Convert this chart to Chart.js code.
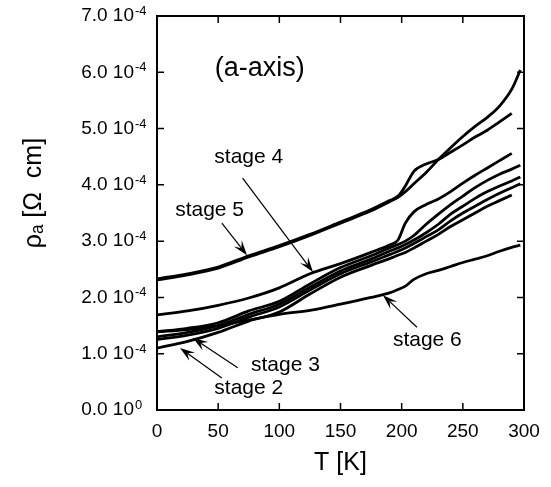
<!DOCTYPE html>
<html>
<head>
<meta charset="utf-8">
<script src="https://cdn.jsdelivr.net/npm/chart.js@4.4.0/dist/chart.umd.min.js"></script>
<style>
  html, body { margin: 0; padding: 0; background: #fff; }
</style>
</head>
<body>
<canvas id="rhoChart" width="551" height="487"></canvas>
<script>
// temperature points (K) shared by all curves
const temps = [0, 25, 50, 75, 100, 125, 150, 175, 190, 197, 203, 210, 220, 230, 240, 250, 260, 270, 280, 290, 297];

// rho_a, in units of 1e-4 ohm cm
const stage5a = [2.31, 2.40, 2.52, 2.72, 2.90, 3.10, 3.32, 3.54, 3.70, 3.78, 3.88, 4.02, 4.22, 4.45, 4.66, 4.86, 5.04, 5.20, 5.40, 5.70, 6.04];
const stage5b = [2.33, 2.42, 2.54, 2.74, 2.92, 3.12, 3.34, 3.56, 3.72, 3.80, 3.98, 4.24, 4.37, 4.45, 4.58, 4.71, 4.85, 4.97, 5.12, 5.27, null];
const stage4 = [1.69, 1.76, 1.86, 1.99, 2.17, 2.42, 2.60, 2.80, 2.93, 3.02, 3.32, 3.52, 3.65, 3.75, 3.88, 4.03, 4.17, 4.30, 4.43, 4.56, null];
const curveA = [1.39, 1.45, 1.55, 1.76, 1.93, 2.24, 2.53, 2.74, 2.88, 2.94, 3.00, 3.10, 3.30, 3.48, 3.65, 3.80, 3.95, 4.08, 4.19, 4.28, 4.35];
const curveB = [1.30, 1.38, 1.50, 1.70, 1.88, 2.18, 2.47, 2.68, 2.82, 2.88, 2.94, 3.02, 3.15, 3.30, 3.48, 3.62, 3.76, 3.88, 3.98, 4.07, 4.14];
const stage3 = [1.25, 1.33, 1.45, 1.65, 1.83, 2.13, 2.42, 2.63, 2.76, 2.82, 2.88, 2.96, 3.08, 3.20, 3.36, 3.50, 3.62, 3.74, 3.85, 3.95, 4.02];
const stage2 = [1.10, 1.22, 1.38, 1.58, 1.74, 2.06, 2.36, 2.57, 2.69, 2.75, 2.80, 2.88, 3.00, 3.12, 3.26, 3.38, 3.50, 3.62, 3.72, 3.82, null];
const stage6 = [1.39, 1.43, 1.50, 1.60, 1.70, 1.77, 1.88, 2.00, 2.08, 2.14, 2.20, 2.32, 2.42, 2.48, 2.55, 2.62, 2.68, 2.74, 2.82, 2.89, 2.93];

// y tick labels: mantissa part and exponent of 10
const yTickMantissa = ["0.0 10", "1.0 10", "2.0 10", "3.0 10", "4.0 10", "5.0 10", "6.0 10", "7.0 10"];
const yTickExponent = ["0", "-4", "-4", "-4", "-4", "-4", "-4", "-4"];

const FONT = "'Liberation Sans', Arial, Helvetica, sans-serif";
const EXP_ROOM = 14;

// text labels and arrows, placed in data coordinates (T, rho)
const notes = [
  { text: "(a-axis)", t: 84, r: 6.06, size: 27 },
  { text: "stage 4", t: 75, r: 4.49, size: 21 },
  { text: "stage 5", t: 43, r: 3.55, size: 21 },
  { text: "stage 3", t: 105, r: 0.80, size: 21 },
  { text: "stage 2", t: 75, r: 0.39, size: 21 },
  { text: "stage 6", t: 221, r: 1.24, size: 21 },
];
const arrows = [
  { from: [70, 4.12], to: [127.5, 2.45] },
  { from: [53, 3.32], to: [73.6, 2.75] },
  { from: [66, 0.75], to: [29.4, 1.28] },
  { from: [53, 0.57], to: [18.8, 1.10] },
  { from: [212.5, 1.47], to: [184.7, 2.04] },
];

function series(vals) {
  return temps.map((t, i) => ({ x: t, y: vals[i] }));
}

const allSeries = [stage5a, stage5b, stage4, curveA, curveB, stage3, stage2, stage6];

// frame with inward ticks, exponents, y title, notes and arrows
const decorations = {
  id: "decorations",
  afterDraw(chart) {
    const { ctx, chartArea: a, scales } = chart;
    const xs = scales.x, ys = scales.y;
    ctx.save();
    ctx.strokeStyle = "#000";
    ctx.fillStyle = "#000";
    ctx.lineWidth = 2;
    ctx.strokeRect(a.left, a.top, a.right - a.left, a.bottom - a.top);
    ctx.lineWidth = 1.5;
    const tl = 7;
    ctx.beginPath();
    xs.ticks.forEach((tk) => {
      const px = xs.getPixelForValue(tk.value);
      ctx.moveTo(px, a.bottom); ctx.lineTo(px, a.bottom - tl);
      ctx.moveTo(px, a.top); ctx.lineTo(px, a.top + tl);
    });
    ys.ticks.forEach((tk) => {
      const py = ys.getPixelForValue(tk.value);
      ctx.moveTo(a.left, py); ctx.lineTo(a.left + tl, py);
      ctx.moveTo(a.right, py); ctx.lineTo(a.right - tl, py);
    });
    ctx.stroke();

    // exponents of the y tick labels
    ctx.font = "13px " + FONT;
    ctx.textAlign = "left";
    ctx.textBaseline = "alphabetic";
    ys.ticks.forEach((tk, i) => {
      const py = ys.getPixelForValue(tk.value);
      ctx.fillText(yTickExponent[i], a.left - 9 - EXP_ROOM + 1, py - 1);
    });

    // y axis title
    ctx.save();
    ctx.translate(34, (a.top + a.bottom) / 2 - 20);
    ctx.rotate(-Math.PI / 2);
    ctx.textAlign = "center";
    ctx.textBaseline = "middle";
    ctx.font = "25px " + FONT;
    ctx.fillText("ρₐ [Ω  cm]", 0, 0);
    ctx.restore();

    // notes
    ctx.textAlign = "center";
    ctx.textBaseline = "middle";
    notes.forEach((n) => {
      ctx.font = n.size + "px " + FONT;
      ctx.fillText(n.text, xs.getPixelForValue(n.t), ys.getPixelForValue(n.r));
    });

    // arrows
    ctx.lineWidth = 1.2;
    arrows.forEach((ar) => {
      const x1 = xs.getPixelForValue(ar.from[0]), y1 = ys.getPixelForValue(ar.from[1]);
      const x2 = xs.getPixelForValue(ar.to[0]), y2 = ys.getPixelForValue(ar.to[1]);
      const ang = Math.atan2(y2 - y1, x2 - x1);
      const len = 15, w = 5;
      const c = Math.cos(ang), s = Math.sin(ang);
      ctx.beginPath();
      ctx.moveTo(x1, y1);
      ctx.lineTo(x2 - c * len * 0.6, y2 - s * len * 0.6);
      ctx.stroke();
      ctx.beginPath();
      ctx.moveTo(x2, y2);
      ctx.lineTo(x2 - c * len - s * w, y2 - s * len + c * w);
      ctx.lineTo(x2 - c * len * 0.6, y2 - s * len * 0.6);
      ctx.lineTo(x2 - c * len + s * w, y2 - s * len - c * w);
      ctx.closePath();
      ctx.fill();
    });
    ctx.restore();
  },
};

const ctx = document.getElementById("rhoChart").getContext("2d");
new Chart(ctx, {
  type: "line",
  data: {
    datasets: allSeries.map((vals) => ({
      data: series(vals),
      borderColor: "#000",
      borderWidth: 2.8,
      pointRadius: 0,
      cubicInterpolationMode: "monotone",
      spanGaps: false,
    })),
  },
  options: {
    responsive: false,
    animation: false,
    layout: { padding: { top: 16, right: 27, left: 0, bottom: 0 } },
    plugins: { legend: { display: false }, tooltip: { enabled: false } },
    scales: {
      x: {
        type: "linear",
        min: 0,
        max: 300,
        ticks: { stepSize: 50, color: "#000", font: { family: FONT, size: 19 }, padding: 10, maxRotation: 0 },
        grid: { display: false, drawTicks: false },
        border: { display: false },
        title: { display: true, text: "T [K]", color: "#000", font: { family: FONT, size: 25 }, padding: { top: 0, bottom: 9 } },
        afterFit: (s) => { s.height = 77; },
      },
      y: {
        min: 0,
        max: 7,
        ticks: {
          stepSize: 1,
          color: "#000",
          font: { family: FONT, size: 19 },
          padding: 9 + EXP_ROOM,
          callback: (v, i) => yTickMantissa[i],
        },
        grid: { display: false, drawTicks: false },
        border: { display: false },
        afterFit: (s) => {
          s.width = 157;
          s.paddingTop = 0;
          s.paddingBottom = 0;
        },
      },
    },
  },
  plugins: [decorations],
});
</script>
</body>
</html>
